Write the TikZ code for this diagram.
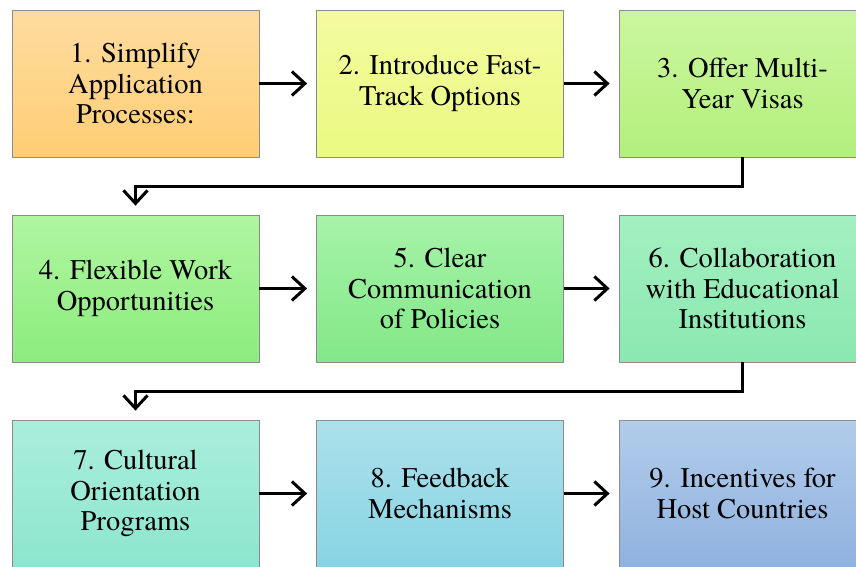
\documentclass[tikz,border=0pt]{standalone}
\usepackage{fontspec}
\setmainfont{texgyretermes-regular.otf}
\usetikzlibrary{arrows.meta}
\tikzset{
  stepbox/.style={draw=black!45,line width=.8pt,minimum width=247pt,minimum height=147pt,
    align=center,font=\fontsize{28.5}{30.5}\selectfont,inner sep=0pt},
  conn/.style={line width=3pt,-{Straight Barb[length=13pt,width=24pt,line width=3pt]},shorten >=9pt}
}
\begin{document}
\begin{tikzpicture}[x=1pt,y=-1pt]
\useasboundingbox (0,0) rectangle (856,566);
\clip (0,0) rectangle (856,566);

\node[stepbox,top color={rgb,255:red,254;green,220;blue,160},bottom color={rgb,255:red,255;green,206;blue,116}] (n1) at (135.5,83.5) {1. Simplify\\Application\\Processes:};
\node[stepbox,top color={rgb,255:red,243;green,251;blue,160},bottom color={rgb,255:red,234;green,250;blue,128}] (n2) at (440,83.5) {2. Introduce Fast-\\Track Options};
\node[stepbox,top color={rgb,255:red,204;green,246;blue,158},bottom color={rgb,255:red,178;green,240;blue,124}] (n3) at (742.5,83.5) {3. Offer Multi-\\Year Visas};

\node[stepbox,top color={rgb,255:red,176;green,246;blue,160},bottom color={rgb,255:red,140;green,236;blue,126}] (n4) at (135.5,288.5) {4. Flexible Work\\Opportunities};
\node[stepbox,top color={rgb,255:red,166;green,243;blue,168},bottom color={rgb,255:red,130;green,232;blue,136}] (n5) at (440,288.5) {5. Clear\\Communication\\of Policies};
\node[stepbox,top color={rgb,255:red,164;green,240;blue,192},bottom color={rgb,255:red,138;green,232;blue,176}] (n6) at (742.5,288.5) {6. Collaboration\\with Educational\\Institutions};

\node[stepbox,top color={rgb,255:red,170;green,238;blue,220},bottom color={rgb,255:red,140;green,230;blue,206}] (n7) at (135.5,493.5) {7. Cultural\\Orientation\\Programs};
\node[stepbox,top color={rgb,255:red,172;green,224;blue,234},bottom color={rgb,255:red,136;green,212;blue,228}] (n8) at (440,493.5) {8. Feedback\\Mechanisms};
\node[stepbox,top color={rgb,255:red,178;green,204;blue,234},bottom color={rgb,255:red,144;green,178;blue,224}] (n9) at (742.5,493.5) {9. Incentives for\\Host Countries};

\draw[conn] (n1) -- (n2);
\draw[conn] (n2) -- (n3);
\draw[conn] (n3.south) -- ++(0,29) -| (n4.north);
\draw[conn] (n4) -- (n5);
\draw[conn] (n5) -- (n6);
\draw[conn] (n6.south) -- ++(0,29) -| (n7.north);
\draw[conn] (n7) -- (n8);
\draw[conn] (n8) -- (n9);
\end{tikzpicture}
\end{document}
